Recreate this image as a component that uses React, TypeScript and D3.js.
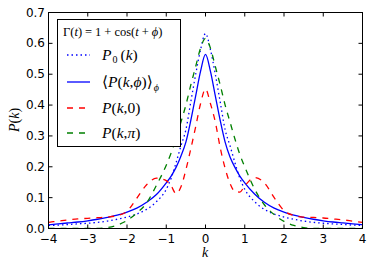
import React from "react";
import * as d3 from "d3";

const kValues = [
  -4, -3.75, -3.5, -3.25, -3, -2.75, -2.5, -2.25, -2, -1.75, -1.5, -1.25,
  -1, -0.875, -0.75, -0.625, -0.5, -0.375, -0.25, -0.125, 0, 0.125, 0.25, 0.375,
  0.5, 0.625, 0.75, 0.875, 1,
  1.25, 1.5, 1.75, 2, 2.25, 2.5, 2.75, 3, 3.25, 3.5, 3.75, 4,
];

const p0Values = [
  0.010, 0.011, 0.013, 0.015, 0.017, 0.020, 0.024, 0.030, 0.037, 0.047, 0.062, 0.087,
  0.127, 0.163, 0.213, 0.268, 0.32, 0.41, 0.50, 0.58, 0.632, 0.58, 0.50, 0.41,
  0.32, 0.268, 0.213, 0.163, 0.127,
  0.087, 0.062, 0.047, 0.037, 0.030, 0.024, 0.020, 0.017, 0.015, 0.013, 0.011, 0.010,
];

const avgValues = [
  0.012, 0.015, 0.018, 0.021, 0.025, 0.030, 0.036, 0.043, 0.053, 0.066, 0.085, 0.11,
  0.148, 0.17, 0.198, 0.235, 0.28, 0.35, 0.43, 0.51, 0.564, 0.51, 0.43, 0.35,
  0.28, 0.232, 0.198, 0.17, 0.148,
  0.112, 0.085, 0.066, 0.053, 0.043, 0.036, 0.030, 0.025, 0.021, 0.018, 0.015, 0.012,
];

const zeroPhaseValues = [
  0.020, 0.024, 0.028, 0.031, 0.033, 0.035, 0.037, 0.042, 0.056, 0.098, 0.142, 0.163,
  0.155, 0.138, 0.113, 0.135, 0.19, 0.258, 0.33, 0.405, 0.452, 0.405, 0.345, 0.262,
  0.195, 0.146, 0.12, 0.118, 0.138,
  0.165, 0.148, 0.10, 0.058, 0.042, 0.037, 0.036, 0.034, 0.031, 0.028, 0.024, 0.020,
];

const piPhaseValues = [
  0, 0, 0, 0, 0, 0, 0.003, 0.011, 0.026, 0.05, 0.083, 0.14,
  0.205, 0.245, 0.29, 0.345, 0.40, 0.465, 0.525, 0.585, 0.616, 0.585, 0.525, 0.465,
  0.40, 0.345, 0.29, 0.24, 0.20,
  0.128, 0.077, 0.045, 0.023, 0.010, 0.003, 0, 0, 0, 0, 0, 0,
];

const xTicks = [-4, -3, -2, -1, 0, 1, 2, 3, 4];
const yTicks = [0, 0.1, 0.2, 0.3, 0.4, 0.5, 0.6, 0.7];

const series = [
  { name: "p0", values: p0Values, color: "#0000ff", dash: "1.5,3", width: 1.3 },
  { name: "avg", values: avgValues, color: "#0000ff", dash: "", width: 1.3 },
  { name: "zero", values: zeroPhaseValues, color: "#ff0000", dash: "6,6", width: 1.3 },
  { name: "pi", values: piPhaseValues, color: "#008000", dash: "6,6", width: 1.3 },
];

const W = 374;
const H = 266;
const left = 48.5;
const right = 362.5;
const top = 12.5;
const bottom = 228.5;

export default function App() {
  const x = d3.scaleLinear().domain([-4, 4]).range([left, right]);
  const y = d3.scaleLinear().domain([0, 0.7]).range([bottom, top]);

  const line = (vals: number[]) =>
    d3
      .line<number>()
      .x((_, i) => x(kValues[i]))
      .y((v) => y(v))
      .curve(d3.curveMonotoneX)(vals) || "";

  const serif = "'Liberation Serif', 'DejaVu Serif', serif";
  const sans = "'DejaVu Sans', sans-serif";

  const legendX = 57.5;
  const legendY = 19.5;
  const legendW = 123;
  const legendH = 127;
  const rows = [55, 82, 108, 133];

  return (
    <svg width={W} height={H} style={{ position: "absolute", left: 0, top: 0 }}>
      <rect x={0} y={0} width={W} height={H} fill="#fff" />
      <defs>
        <clipPath id="plotclip">
          <rect x={left} y={top} width={right - left} height={bottom - top} />
        </clipPath>
      </defs>
      <g clipPath="url(#plotclip)">
        {series.map((s) => (
          <path
            key={s.name}
            d={line(s.values)}
            fill="none"
            stroke={s.color}
            strokeWidth={s.width}
            strokeDasharray={s.dash || undefined}
          />
        ))}
      </g>
      <rect x={left} y={top} width={right - left} height={bottom - top} fill="none" stroke="#000" strokeWidth={1} />
      {xTicks.map((t) => (
        <g key={"x" + t}>
          <line x1={x(t)} x2={x(t)} y1={bottom} y2={bottom - 4} stroke="#000" />
          <line x1={x(t)} x2={x(t)} y1={top} y2={top + 4} stroke="#000" />
          <text x={x(t)} y={242.5} textAnchor="middle" fontFamily={sans} fontSize={12}>
            {t < 0 ? "\u2212" + Math.abs(t) : String(t)}
          </text>
        </g>
      ))}
      {yTicks.map((t) => (
        <g key={"y" + t}>
          <line x1={left} x2={left + 4} y1={y(t)} y2={y(t)} stroke="#000" />
          <line x1={right} x2={right - 4} y1={y(t)} y2={y(t)} stroke="#000" />
          <text x={45} y={y(t) + 4} textAnchor="end" fontFamily={sans} fontSize={12}>
            {t.toFixed(1)}
          </text>
        </g>
      ))}
      <text x={205} y={257} textAnchor="middle" fontFamily={serif} fontStyle="italic" fontSize={14}>
        k
      </text>
      <text
        transform="translate(19,120) rotate(-90)"
        textAnchor="middle"
        fontFamily={serif}
        fontSize={14}
      >
        <tspan fontStyle="italic">P</tspan>(<tspan fontStyle="italic">k</tspan>)
      </text>

      <rect x={legendX} y={legendY} width={legendW} height={legendH} fill="#fff" stroke="#000" strokeWidth={1} />
      <text x={63} y={36} fontFamily={serif} fontSize={12.5}>
        Γ(<tspan fontStyle="italic">t</tspan>)<tspan dx={3}>=</tspan><tspan dx={3}>1</tspan>
        <tspan dx={3}>+</tspan><tspan dx={3}>cos(</tspan><tspan fontStyle="italic">t</tspan>
        <tspan dx={3}>+</tspan><tspan dx={3} fontStyle="italic">ϕ</tspan>)
      </text>
      {series.map((s, i) => (
        <line
          key={"leg" + s.name}
          x1={67}
          x2={90}
          y1={rows[i]}
          y2={rows[i]}
          stroke={s.color}
          strokeWidth={s.width}
          strokeDasharray={s.dash || undefined}
        />
      ))}
      <text x={102} y={rows[0] + 5} fontFamily={serif} fontSize={15.5}>
        <tspan fontStyle="italic">P</tspan>
        <tspan fontSize={10} dy={3} dx={1}>0</tspan>
        <tspan dy={-3} dx={3}>(</tspan>
        <tspan fontStyle="italic">k</tspan>)
      </text>
      <text x={102} y={rows[1] + 5} fontFamily={serif} fontSize={15.5}>
        ⟨<tspan fontStyle="italic">P</tspan>(<tspan fontStyle="italic">k</tspan>,<tspan fontStyle="italic">ϕ</tspan>)⟩
        <tspan fontSize={10} dy={4} dx={1} fontStyle="italic">ϕ</tspan>
      </text>
      <text x={102} y={rows[2] + 5} fontFamily={serif} fontSize={15.5}>
        <tspan fontStyle="italic">P</tspan>(<tspan fontStyle="italic">k</tspan>,0)
      </text>
      <text x={102} y={rows[3] + 5} fontFamily={serif} fontSize={15.5}>
        <tspan fontStyle="italic">P</tspan>(<tspan fontStyle="italic">k</tspan>,<tspan fontStyle="italic">π</tspan>)
      </text>
    </svg>
  );
}
